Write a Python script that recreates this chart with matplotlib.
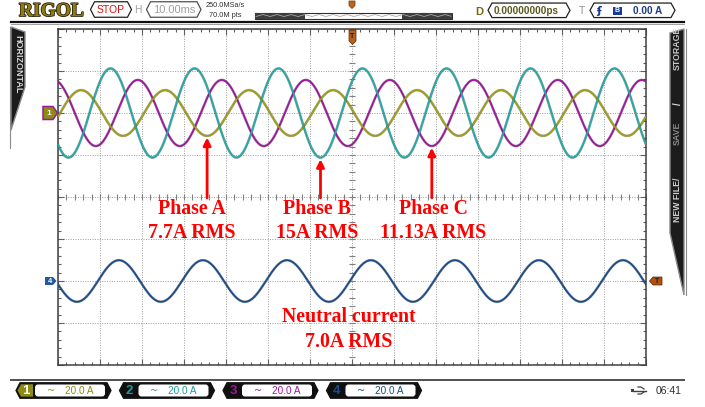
import numpy as np
import matplotlib.pyplot as plt
import matplotlib.patheffects as pe
from matplotlib.patches import Polygon, Rectangle, FancyBboxPatch

plt.rcParams['font.family'] = ['Liberation Sans', 'DejaVu Sans']

# scope settings
time_div_ms = 10.0          # H 10.00ms
amp_div = 20.0              # 20.0 A / div on every channel
mains_period_ms = 20.0      # 50 Hz

# channel data
channel_names = ["Phase A", "Phase B", "Phase C", "Neutral current"]
rms_labels = ["7.7A RMS", "15A RMS", "11.13A RMS", "7.0A RMS"]
rms_amps = [7.7, 15.0, 11.13, 7.0]
trough_ms = [5.5, 12.5, 19.0, 14.5]     # time of a current minimum inside one cycle
offset_div = [2, 2, 2, -2]              # channel offset on screen
arrow_cycle = [-2, -1, 0]               # which trough each phase arrow points at

trace_colors = ["#a0a016", "#22aaaa", "#a0169e", "#1a4c8e"]
badge_colors = ["#8c8c14", "#1a9c9c", "#a0169e", "#1a4c8e"]
badge_labels = ["1", "2", "3", "4"]
badge_scale = ["20.0 A", "20.0 A", "20.0 A", "20.0 A"]

fig = plt.figure(figsize=(7.05, 4.07), dpi=100)
W, H = 705, 407

# ---- waveform area ----
ax = fig.add_axes([58 / W, 42 / H, 588 / W, 336 / H])
ax.set_xlim(-7 * time_div_ms, 7 * time_div_ms)
ax.set_ylim(-4, 4)

t = np.linspace(-70, 70, 3000)
draw_order = [3, 2, 0, 1]
for i in draw_order:
    peak = rms_amps[i] * np.sqrt(2) / amp_div
    y = offset_div[i] - peak * np.cos(2 * np.pi * (t - trough_ms[i]) / mains_period_ms)
    ax.plot(t, y, color=trace_colors[i], lw=1.25, zorder=3,
            path_effects=[pe.Stroke(linewidth=1.9, foreground='#202020', alpha=0.4), pe.Normal()])

ax.set_xticks(np.arange(-70, 71, time_div_ms))
ax.set_yticks(np.arange(-4, 5, 1))
ax.set_xticks(np.arange(-70, 71, 2), minor=True)
ax.set_yticks(np.arange(-4, 4.01, 0.2), minor=True)
ax.grid(which='major', color='#9c9c9c', ls=(0, (1, 1.5)), lw=0.7)
ax.tick_params(which='both', direction='in', top=True, right=True,
               labelbottom=False, labelleft=False, color='#606060')
ax.tick_params(which='major', length=4, width=0.8)
ax.tick_params(which='minor', length=2.5, width=0.8)
for s in ax.spines.values():
    s.set_color('#404040')
    s.set_linewidth(1.1)

# centre cross ticks
ax.plot(np.arange(-70, 70.1, 2), np.zeros(71), ls='none', marker='|', ms=4, mew=0.8, color='#808080')
ax.plot(np.zeros(41), np.arange(-4, 4.01, 0.2), ls='none', marker='_', ms=4, mew=0.8, color='#808080')

# red annotations
label_x = [-38.1, -8.3, 19.3]
for i in range(3):
    ta = trough_ms[i] + arrow_cycle[i] * mains_period_ms
    tip = offset_div[i] - rms_amps[i] * np.sqrt(2) / amp_div - 0.04
    ax.annotate('', xy=(ta, tip), xytext=(ta, -0.02),
                arrowprops=dict(arrowstyle='-|>', color='red', lw=2, mutation_scale=11,
                                shrinkA=0, shrinkB=0), zorder=5)
    ax.text(label_x[i], -0.28, channel_names[i], ha='center', va='center', color='red',
            fontsize=14.3, fontweight='bold', family='Liberation Serif', zorder=5)
    ax.text(label_x[i], -0.85, rms_labels[i], ha='center', va='center', color='red',
            fontsize=14.3, fontweight='bold', family='Liberation Serif', zorder=5)
ax.text(-0.7, -2.86, channel_names[3], ha='center', va='center', color='red',
        fontsize=14.3, fontweight='bold', family='Liberation Serif', zorder=5)
ax.text(-0.7, -3.45, rms_labels[3], ha='center', va='center', color='red',
        fontsize=14.3, fontweight='bold', family='Liberation Serif', zorder=5)

# ---- screen furniture in pixel coordinates ----
d = fig.add_axes([0, 0, 1, 1])
d.set_xlim(0, W)
d.set_ylim(H, 0)
d.set_axis_off()


def bracket(x0, x1, yc, h, fc='white', ec='#202020', lw=0.9, n=4):
    pts = [(x0, yc), (x0 + n, yc - h / 2), (x1 - n, yc - h / 2), (x1, yc),
           (x1 - n, yc + h / 2), (x0 + n, yc + h / 2)]
    d.add_patch(Polygon(pts, closed=True, fc=fc, ec=ec, lw=lw))


# separators
d.plot([11, 684], [21.5, 21.5], color='#101010', lw=1.6)
d.plot([11, 684], [23.6, 23.6], color='#909090', lw=0.6)
d.plot([11, 684], [380, 380], color='#505050', lw=1.4)

# top bar
d.text(19, 11.5, "RIGOL", ha='left', va='center', fontsize=14, fontweight='bold',
       family='Liberation Serif', color='#8e7c18',
       path_effects=[pe.withStroke(linewidth=1.2, foreground='#2a2200')])
bracket(90.5, 131.5, 9.5, 15.5)
d.text(111, 10, "STOP", ha='center', va='center', fontsize=7.5, color='#d81010')
d.text(137.5, 10, "H", ha='center', va='center', fontsize=7.5, color='#a0a0a0')
bracket(146.5, 201, 9.5, 15.5, ec='#505050')
d.text(174, 10, "10.00ms", ha='center', va='center', fontsize=8, color='#a0a0a0')
d.text(225, 5.5, "250.0MSa/s", ha='center', va='center', fontsize=5.3, color='#303030')
d.text(225, 15.5, "70.0M pts", ha='center', va='center', fontsize=5.3, color='#303030')

# memory bar
d.add_patch(Rectangle((255, 12.5), 197, 6, fc='white', ec='#303030', lw=0.8))
d.add_patch(Rectangle((255, 12.5), 50, 6, fc='#3c3c3c', ec='none'))
d.add_patch(Rectangle((402, 12.5), 50, 6, fc='#3c3c3c', ec='none'))
xs = np.linspace(256, 451, 400)
ys = 15.5 + 2 * np.abs(((xs - 256) / 7) % 2 - 1) - 1
d.plot(xs, ys, color='#a8a8a8', lw=0.6)
d.add_patch(Polygon([(349, 1), (355, 1), (355, 5.5), (352, 8.5), (349, 5.5)], fc='#c0641c', ec='#6a3000', lw=0.5))

d.text(479.5, 12, "D", ha='center', va='center', fontsize=8, fontweight='bold', color='#7a6418')
bracket(488, 570, 10.3, 14.5)
d.text(526, 10.8, "0.00000000ps", ha='center', va='center', fontsize=7.2, fontweight='bold', color='#5a5a1e')
d.text(582, 11, "T", ha='center', va='center', fontsize=7.5, color='#909090')
bracket(590, 675, 10.3, 14.5)
d.text(598, 10.8, "ʄ", ha='center', va='center', fontsize=8, fontweight='bold', color='#1a3a9a',
       family='DejaVu Sans')
d.add_patch(Rectangle((613, 6.8), 8.5, 8, fc='#1a3a9a', ec='none'))
d.text(617.3, 10.9, "B", ha='center', va='center', fontsize=5, fontweight='bold', color='white')
d.text(648, 10.8, "0.00 A", ha='center', va='center', fontsize=7.2, fontweight='bold', color='#1a3a8a')

# side tabs
d.add_patch(Polygon([(11, 27), (25, 32), (25, 87), (11, 130)], fc='#1c1c1c', ec='#8a8a8a', lw=1))
d.plot([10, 10], [27, 148], color='#8a8a8a', lw=0.8)
d.text(18, 64, "HORIZONTAL", rotation=-90, ha='center', va='center', fontsize=6.5,
       fontweight='bold', color='#d8d8d8')
d.add_patch(Polygon([(670, 33), (684, 29), (684, 295), (670, 233)], fc='#1c1c1c', ec='#8a8a8a', lw=1))
d.plot([685.5, 685.5], [29, 295], color='#8a8a8a', lw=0.8)
d.text(677.5, 48, "STORAGE", rotation=90, ha='center', va='center', fontsize=6.3, fontweight='bold', color='#c8c8c8')
d.text(677.5, 104, "/", rotation=90, ha='center', va='center', fontsize=7, fontweight='bold', color='#e0e0e0')
d.text(677.5, 133, "SAVE", rotation=90, ha='center', va='center', fontsize=6.3, fontweight='bold', color='#8a8a8a')
d.text(677.5, 200, "NEW FILE/", rotation=90, ha='center', va='center', fontsize=6.3, fontweight='bold', color='#d0d0d0')

# channel markers on the grid edge
d.add_patch(Polygon([(43, 106.5), (53, 106.5), (57.5, 113), (53, 119.5), (43, 119.5)],
                    fc='#8c8c14', ec='#9a1a9a', lw=1.1))
d.text(48.5, 113.3, "1", ha='center', va='center', fontsize=6, fontweight='bold', color='white')
d.add_patch(Polygon([(45, 277), (53, 277), (56.5, 281), (53, 285), (45, 285)], fc='#1f5aa0', ec='none'))
d.text(49.5, 281.3, "4", ha='center', va='center', fontsize=5.5, fontweight='bold', color='white')
d.add_patch(Polygon([(649.5, 281), (653, 277), (662, 277), (662, 285), (653, 285)], fc='#b4500e', ec='#5a2000', lw=0.5))
d.text(657, 281.3, "T", ha='center', va='center', fontsize=5, fontweight='bold', color='#1c1c1c')
d.add_patch(Polygon([(349, 30), (356, 30), (356, 41), (352.5, 44.5), (349, 41)], fc='#b8601a', ec='#5a2a00', lw=0.5))
d.text(352.5, 36, "T", ha='center', va='center', fontsize=5, fontweight='bold', color='#1c1c1c')

# channel badges
for i in range(4):
    x0 = 16 + 103.5 * i
    yc = 390.5
    bracket(x0, x0 + 95, yc, 15.5, fc='#101010', ec='#101010', n=4)
    if i == 0:
        d.add_patch(Polygon([(x0 + 1.5, yc), (x0 + 5, yc - 6.2), (x0 + 17, yc - 6.2),
                             (x0 + 17, yc + 6.2), (x0 + 5, yc + 6.2)], fc=badge_colors[0], ec='none'))
        num_col = 'white'
    else:
        num_col = badge_colors[i]
    d.add_patch(FancyBboxPatch((x0 + 19, yc - 6), 70, 12, boxstyle='round,pad=0,rounding_size=3',
                               fc='white', ec='none'))
    d.text(x0 + 10, yc + 0.5, badge_labels[i], ha='center', va='center', fontsize=9.5,
           fontweight='bold', color=num_col)
    d.text(x0 + 35, yc, "~", ha='center', va='center', fontsize=7, color=badge_colors[i],
           family='DejaVu Sans')
    d.text(x0 + 63, yc + 0.5, badge_scale[i], ha='center', va='center', fontsize=7.2, color=badge_colors[i])

# usb icon and clock
d.plot([633, 646], [390.5, 390.5], color='#404040', lw=1)
d.plot([638, 641, 644], [387, 387, 389], color='#404040', lw=0.9)
d.plot([638, 641, 644], [394, 394, 392], color='#404040', lw=0.9)
d.add_patch(Rectangle((631, 389), 3, 3, fc='#404040', ec='none'))
d.text(669, 390.8, "06:41", ha='center', va='center', fontsize=7.5, color='#303030')

fig.savefig('out.png', dpi=100)
